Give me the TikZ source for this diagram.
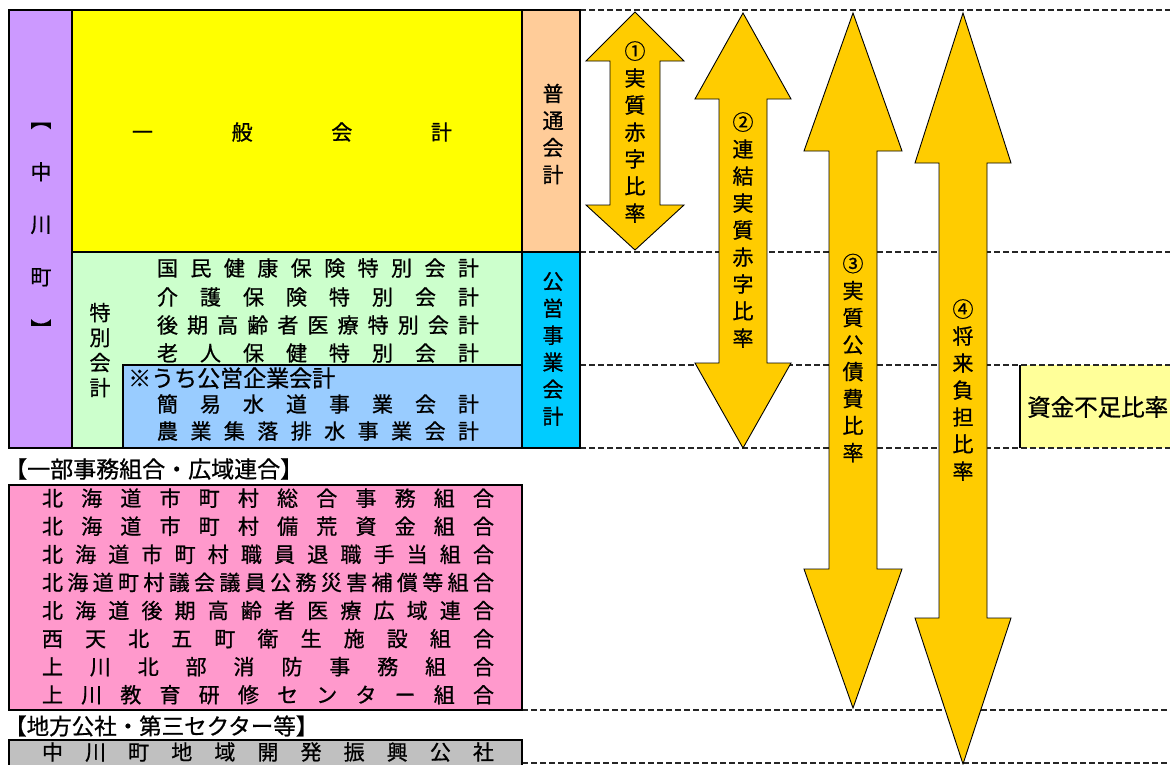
\documentclass[tikz,border=0pt]{standalone}
\usepackage{fontspec}
\setmainfont{Noto Sans CJK JP}[FakeBold=0.8]

\definecolor{townpurple}{HTML}{CC99FF}
\definecolor{genyellow}{HTML}{FFFF00}
\definecolor{normorange}{HTML}{FFCC99}
\definecolor{specgreen}{HTML}{CCFFCC}
\definecolor{entblue}{HTML}{99CCFF}
\definecolor{pubcyan}{HTML}{00CCFF}
\definecolor{unionpink}{HTML}{FF99CC}
\definecolor{thirdgray}{HTML}{C0C0C0}
\definecolor{ratiogold}{HTML}{FFCC00}
\definecolor{shortyellow}{HTML}{FFFF99}

\tikzset{
  acct/.style={draw=black, line width=1.3pt},
  ratioarrow/.style={draw=black, line width=0.9pt, fill=ratiogold},
  guide/.style={draw=black!85, line width=1.3pt, dash pattern=on 6pt off 3pt},
  vlabel/.style={align=center, inner sep=0pt, font=\fontsize{21}{27}\selectfont},
  rowtext/.style={inner sep=0pt, font=\fontsize{21}{25}\selectfont},
  headtext/.style={anchor=west, inner sep=0pt, font=\fontsize{23}{27}\selectfont},
}
\newcommand{\spreadrow}[2]{\makebox[#1][s]{#2}}

\begin{document}
\begin{tikzpicture}[x=1pt, y=-1pt]
  \useasboundingbox (0,0) rectangle (1170,764);

  % fond du ratio de deficit de fonds
  \fill[shortyellow] (1020, 365) rectangle (1170, 448);
  \draw[line width=1.3pt] (1020, 365) -- (1020, 448);
  \node[headtext, font=\fontsize{23.5}{27}\selectfont] (shortage) at (1027, 407) {資金不足比率};

  % lignes de repere
  \foreach \y in {10, 252, 365, 448} {
    \draw[guide] (580, \y) -- (1170, \y);
  }
  \draw[guide] (522, 710) -- (1170, 710);
  \draw[guide] (522, 763) -- (1170, 763);

  % comptes de la ville
  \draw[acct, fill=townpurple] (9, 10) rectangle (72, 448);
  \draw[acct, fill=genyellow] (72, 10) rectangle (522, 252);
  \draw[acct, fill=normorange] (522, 10) rectangle (580, 252);
  \draw[acct, fill=specgreen] (72, 252) rectangle (522, 448);
  \draw[acct, fill=entblue] (123, 365) rectangle (522, 448);
  \draw[acct, fill=pubcyan] (522, 252) rectangle (580, 448);

  \node[vlabel, font=\fontsize{21}{52.5}\selectfont] (town) at (41, 230) {︻\\中\\川\\町\\︼};
  \node[rowtext] (general) at (292, 132) {\spreadrow{320pt}{一 般 会 計}};
  \node[vlabel] (ordinary) at (553, 134) {普\\通\\会\\計};
  \node[vlabel] (public) at (553, 349) {公\\営\\事\\業\\会\\計};
  \node[vlabel, font=\fontsize{21}{25}\selectfont] (special) at (100, 350) {特\\別\\会\\計};

  \node[rowtext] (spec1) at (318, 268) {\spreadrow{322pt}{国 民 健 康 保 険 特 別 会 計}};
  \node[rowtext] (spec2) at (318, 297) {\spreadrow{322pt}{介 護 保 険 特 別 会 計}};
  \node[rowtext] (spec3) at (318, 325) {\spreadrow{322pt}{後 期 高 齢 者 医 療 特 別 会 計}};
  \node[rowtext] (spec4) at (318, 353) {\spreadrow{322pt}{老 人 保 健 特 別 会 計}};
  \node[rowtext, anchor=west, font=\fontsize{23}{27}\selectfont] (enthead) at (128, 378) {※うち公営企業会計};
  \node[rowtext] (ent1) at (318, 404) {\spreadrow{322pt}{簡 易 水 道 事 業 会 計}};
  \node[rowtext] (ent2) at (318, 431) {\spreadrow{322pt}{農 業 集 落 排 水 事 業 会 計}};

  %組合・広域連合
  \node[headtext] (unionhead) at (4, 469) {【一部事務組合・広域連合】};
  \draw[acct, fill=unionpink] (9, 485) rectangle (522, 710);
  \foreach \txt [count=\i] in {
      北 海 道 市 町 村 総 合 事 務 組 合,
      北 海 道 市 町 村 備 荒 資 金 組 合,
      北 海 道 市 町 村 職 員 退 職 手 当 組 合,
      北 海 道 町 村 議 会 議 員 公 務 災 害 補 償 等 組 合,
      北 海 道 後 期 高 齢 者 医 療 広 域 連 合,
      西 天 北 五 町 衛 生 施 設 組 合,
      上 川 北 部 消 防 事 務 組 合,
      上 川 教 育 研 修 セ ン タ ー 組 合} {
    \node[rowtext] (union\i) at (268, 470 + 28.1*\i) {\spreadrow{452pt}{\txt}};
  }

  % 第三セクター
  \node[headtext, font=\fontsize{22.5}{27}\selectfont] (thirdhead) at (4, 726) {【地方公社・第三セクター等】};
  \draw[acct, fill=thirdgray] (9, 740) rectangle (522, 790);
  \node[rowtext] (third1) at (268, 752) {\spreadrow{452pt}{中 川 町 地 域 開 発 振 興 公 社}};

  % fleches des ratios
  \foreach \c/\hw/\sw/\t/\ts/\bs/\b in {635/49/25/12/61/205/250, 743/48/24/13/99/363/448,
      853/49/24/13/151/569/708, 963/48/24/13/163/618/764} {
    \draw[ratioarrow] (\c, \t) -- (\c + \hw, \ts) -- (\c + \sw, \ts) -- (\c + \sw, \bs)
      -- (\c + \hw, \bs) -- (\c, \b) -- (\c - \hw, \bs) -- (\c - \sw, \bs)
      -- (\c - \sw, \ts) -- (\c - \hw, \ts) -- cycle;
  }
  \node[vlabel] (ratio1) at (635, 132) {①\\実\\質\\赤\\字\\比\\率};
  \node[vlabel] (ratio2) at (743, 230) {②\\連\\結\\実\\質\\赤\\字\\比\\率};
  \node[vlabel] (ratio3) at (853, 358) {③\\実\\質\\公\\債\\費\\比\\率};
  \node[vlabel] (ratio4) at (963, 390) {④\\将\\来\\負\\担\\比\\率};
\end{tikzpicture}
\end{document}
